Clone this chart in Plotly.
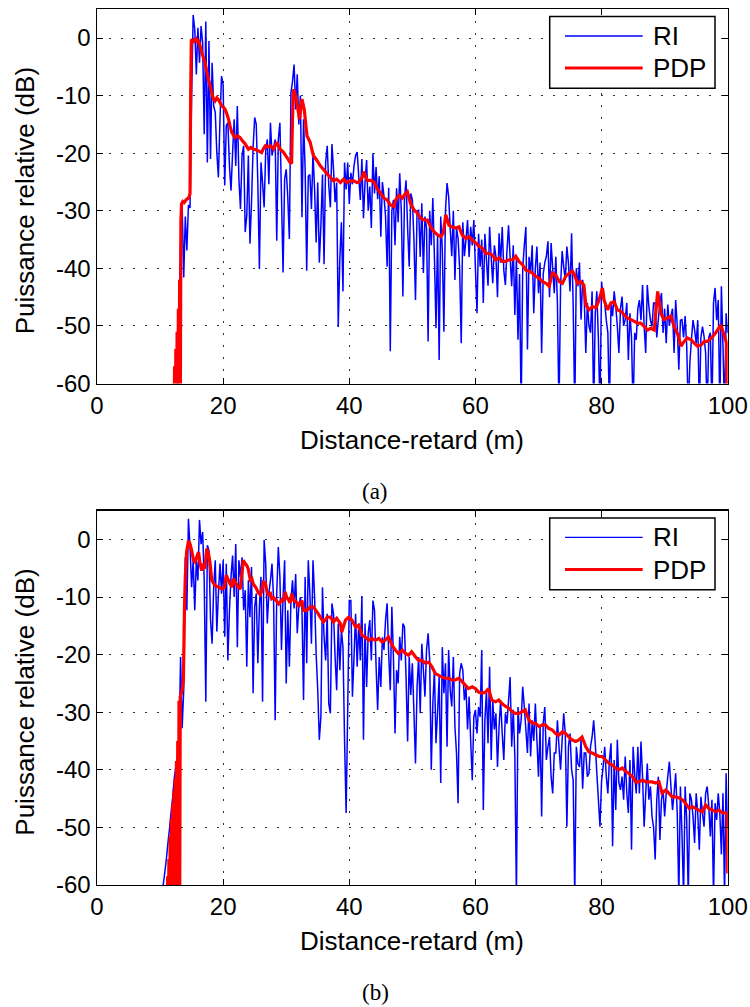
import numpy as np
import plotly.graph_objects as go

# ------------------------------------------------------------------ data
DIST_STEP = 0.25          # sampling step of the impulse responses (m)

# (a) impulse response RI, dB, samples from 12.0 m every 0.25 m (one row = 1 m)
RI_A_START = 12.0
RI_A = [
    -75, -75, -70, -62,            # 12
    -48, -36, -29, -41.6,          # 13
    -31, -36.9, -29, -29.5,        # 14
    -10, 4.0, 1.5, -6.3,           # 15
    1.8, -4.3, 2.1, -0.8,          # 16
    -16.7, 2.9, -21.6, -0.5,       # 17
    -21.0, -4.3, -11.8, -12.9,     # 18
    -19.9, -24.2, -14.1, -6.6,     # 19
    -8.1, -25.6, -15.2, -14.7,     # 20
    -22.2, -26.5, -19.9, -14.1,    # 21
    -22.2, -11.8, -24.5, -29.7,    # 22
    -20.4, -18.7, -33.7, -30.8,    # 23
    -20.4, -35.7, -28.5, -19.0,    # 24
    -13.8, -15.0, -25.1, -40.1,    # 25
    -21.6, -25.1, -29.4, -19.6,    # 26
    -17.6, -25.4, -14.7, -20.4,    # 27
    -19.0, -17.6, -35.2, -17.6,    # 28
    -14.7, -27.4, -40.7, -24.5,    # 29
    -22.8, -27.7, -34.9, -9.5,     # 30
    -7.5, -4.6, -12.4, -6.3,       # 31
    -15.0, -10.0, -31.1, -14.1,    # 32
    -22.8, -40.4, -24.0, -23.7,    # 33
    -29.7, -19.9, -26.3, -35.5,    # 34
    -25.1, -39.0, -32.5, -23.7,    # 35
    -39.3, -21.6, -18.7, -25.6,    # 36
    -29.4, -18.4, -22.8, -28.5,    # 37
    -25.1, -50.2, -38.4, -32.0,    # 38
    -44.0, -21.6, -26.3, -21.6,    # 39
    -28.8, -23.4, -25.4, -22.2,    # 40
    -20.4, -19.8, -24, -28.1,      # 41
    -21, -31.3, -25, -21.2,        # 42
    -30, -25.8, -33, -20.0,        # 43
    -27, -22.4, -28, -24,          # 44
    -34.5, -25, -27.5, -31,        # 45
    -39.7, -26, -54.4, -30,        # 46
    -28.1, -36, -26.1, -32,        # 47
    -23.5, -30, -44.9, -28,        # 48
    -24.7, -33, -39.7, -27,        # 49
    -28.1, -35, -45.5, -30,        # 50
    -29.9, -38, -28.7, -40.8,      # 51
    -31, -33, -52.7, -30,          # 52
    -36, -27.8, -38, -50.4,        # 53
    -34, -55.9, -31, -36.8,        # 54
    -51, -30, -25.2, -27.5,        # 55
    -33, -37.9, -30, -42,          # 56
    -33, -34.8, -40, -53,          # 57
    -32, -37.9, -35, -31.6,        # 58
    -38, -32.8, -36, -31.6,        # 59
    -40, -47.8, -34, -39.7,        # 60
    -35, -46.0, -34, -38.5,        # 61
    -43, -32.8, -38, -42.6,        # 62
    -36, -37.9, -45, -33.9,        # 63
    -39, -32.8, -40.3, -42.9,      # 64
    -37, -32.5, -38, -43.1,        # 65
    -36, -48.1, -38, -52.4,        # 66
    -41, -65, -40, -36,            # 67
    -32.8, -54.1, -38, -40.8,      # 68
    -36, -47.8, -40, -36.2,        # 69
    -44.3, -39, -54.7, -41,        # 70
    -39, -37.9, -35.3, -45,        # 71
    -35.6, -40, -44.3, -38,        # 72
    -46, -65, -43.1, -37,          # 73
    -39.7, -42, -36.2, -39.1,      # 74
    -44, -33.9, -46.6, -65,        # 75
    -40, -43.1, -39, -48.9,        # 76
    -42, -45, -54.7, -46.0,        # 77
    -50, -51.2, -44, -65,          # 78
    -47.8, -44, -52.4, -65,        # 79
    -42.3, -45, -46.0, -49,        # 80
    -51.2, -65, -46, -48.3,        # 81
    -44, -46.6, -50, -54.7,        # 82
    -47, -44.9, -50, -48.9,        # 83
    -46, -55.9, -47.8, -52,        # 84
    -65, -51.2, -52.4, -47,        # 85
    -45.5, -49, -42.9, -50,        # 86
    -54.7, -42.9, -46.6, -49,      # 87
    -50.1, -46, -46.0, -52,        # 88
    -48.9, -46, -44.3, -51.2,      # 89
    -47, -53, -46.3, -50,          # 90
    -48.3, -47, -54.7, -45.5,      # 91
    -50, -57.6, -49, -48.9,        # 92
    -52, -48.3, -53.5, -65,        # 93
    -56.4, -52.4, -49, -50.7,      # 94
    -53, -49, -65, -52,            # 95
    -50.1, -51.8, -54.7, -65,      # 96
    -52, -51.2, -65, -46,          # 97
    -43.4, -49, -45.5, -65,        # 98
    -43.1, -53.5, -65, -47.8,      # 99
    -51.2,                         # 100
]

# (a) power delay profile PDP: (distance m, dB)
PDP_A = [
    (12.1, -60), (12.2, -70), (12.3, -57), (12.4, -70), (12.5, -54), (12.6, -70),
    (12.7, -51), (12.8, -70), (12.9, -47), (13.0, -70), (13.1, -42), (13.2, -70),
    (13.3, -32), (13.4, -28.8), (13.6, -28.4), (13.8, -28.6), (14.0, -28.3),
    (14.2, -28.0), (14.4, -27.9), (14.6, -27.6), (14.75, -27.0), (14.85, -10),
    (14.95, -0.5), (15.03, -0.2), (15.29, -0.8), (15.5, -0.3), (15.71, -0.1),
    (15.9, -0.6), (16.08, -0.5), (16.35, -1.4), (16.61, -2.5), (16.9, -3.5),
    (17.14, -4.3), (17.4, -5.8), (17.67, -7.2), (17.9, -8.1), (18.2, -9.5),
    (18.45, -10.5), (18.73, -10.9), (19.0, -10.4), (19.26, -10.7), (19.5, -11.2),
    (19.79, -11.8), (20.05, -12.0), (20.32, -12.4), (20.6, -13.2), (20.85, -14.1),
    (21.1, -15.3), (21.38, -16.4), (21.65, -16.9), (21.9, -17.3), (22.3, -17.0),
    (22.7, -17.3), (23.1, -17.9), (23.5, -18.4), (24.0, -19.3), (24.4, -19.0),
    (24.8, -19.3), (25.2, -19.4), (25.6, -19.6), (26.1, -19.9), (26.4, -19.2),
    (26.7, -18.7), (27.1, -18.9), (27.5, -18.7), (28.0, -19.3), (28.5, -18.1),
    (29.05, -19.3), (29.6, -19.9), (30.1, -20.7), (30.6, -21.6), (30.85, -21.8),
    (31.0, -14.0), (31.16, -8.9), (31.4, -9.6), (31.7, -11.2), (32.1, -14.1),
    (32.5, -10.6), (32.86, -12.4), (33.3, -17.0), (33.8, -18.1), (34.3, -20.4),
    (34.9, -21.3), (35.4, -22.2), (35.9, -22.8), (36.5, -23.6), (37.0, -24.2),
    (37.5, -24.8), (38.0, -24.5), (38.6, -25.1), (39.1, -24.5), (39.6, -25.1),
    (40.2, -24.8), (40.7, -24.8), (41.2, -25.1), (41.5, -25.0), (42.1, -24.1),
    (42.3, -23.2), (42.85, -24.7), (43.4, -24.7), (43.9, -25.0), (44.4, -26.1),
    (45.0, -27.0), (45.5, -27.8), (46.0, -28.1), (46.55, -29.0), (47.1, -29.3),
    (47.35, -28.1), (47.9, -27.3), (48.4, -27.8), (48.9, -27.0), (49.2, -26.7),
    (49.7, -28.7), (50.3, -29.9), (50.8, -30.4), (51.3, -31.3), (51.85, -31.6),
    (52.4, -31.6), (52.9, -32.8), (53.4, -33.6), (54.0, -34.2), (54.5, -34.5),
    (54.9, -33.9), (55.3, -30.7), (55.8, -32.5), (56.3, -32.8), (56.9, -33.0),
    (57.4, -32.8), (57.9, -34.2), (58.5, -34.8), (59.0, -34.5), (59.5, -35.1),
    (60.05, -35.6), (60.6, -36.2), (61.1, -36.5), (61.6, -37.4), (62.2, -37.4),
    (62.7, -37.7), (63.2, -38.5), (63.75, -38.2), (64.3, -38.8), (64.8, -38.8),
    (65.3, -38.5), (65.9, -38.5), (66.4, -37.9), (66.9, -38.8), (67.5, -39.4),
    (68.0, -40.3), (68.5, -40.5), (69.0, -40.8), (69.6, -41.4), (70.1, -41.7),
    (70.6, -42.3), (71.2, -42.6), (71.7, -43.1), (72.2, -40.8), (72.7, -41.1),
    (73.3, -42.3), (73.8, -42.6), (74.3, -41.4), (74.9, -40.8), (75.4, -40.5),
    (75.7, -41.1), (76.2, -42.6), (76.7, -42.3), (77.2, -42.9), (77.5, -46.3),
    (78.0, -47.2), (78.6, -46.6), (79.1, -46.9), (79.6, -45.5), (80.15, -43.4),
    (80.4, -45.5), (80.95, -47.2), (81.5, -46.0), (82.0, -45.8), (82.5, -47.2),
    (83.1, -47.5), (83.6, -48.1), (84.1, -48.6), (84.65, -48.9), (85.2, -49.2),
    (85.7, -49.5), (86.2, -49.5), (86.8, -50.1), (87.3, -50.7), (87.8, -50.4),
    (88.35, -50.7), (88.9, -44.0), (89.4, -47.8), (89.9, -48.9), (90.5, -48.6),
    (91.0, -48.3), (91.5, -50.1), (92.1, -51.5), (92.6, -53.5), (93.1, -52.7),
    (93.6, -52.1), (94.2, -52.4), (94.7, -53.0), (95.2, -53.5), (95.8, -53.3),
    (96.3, -52.7), (96.8, -52.7), (97.35, -52.1), (97.9, -51.5), (98.4, -50.7),
    (98.9, -49.8), (99.5, -51.8), (99.8, -53.0), (100.0, -70),
]

# (b) impulse response RI, dB, samples from 10.0 m every 0.25 m (one row = 1 m)
RI_B_START = 10.0
RI_B = [
    -75, -65, -60, -57.8,          # 10
    -55.5, -52.7, -50.2, -47.3,    # 11
    -44.8, -41.5, -39.4, -37.8,    # 12
    -36, -20.4, -32.8, -26.2,      # 13
    -3.1, -12.3, 3.6, -1.3,        # 14
    -8.3, -3.6, -12.3, -3.6,       # 15
    -7.1, 3.4, -0.8, 1.3,          # 16
    -7.1, -28.2, -1.0, -1.9,       # 17
    -14, -18.1, -8.3, -3.6,        # 18
    -16, -9.4, -4.2, -9.4,         # 19
    -3.6, -16.9, -4.2, -21,        # 20
    -12.3, -6.5, -2.8, -10,        # 21
    -0.8, -18.7, -3.6, -6.5,       # 22
    -3.1, -12.3, -8.8, -22.1,      # 23
    -7.1, -13.5, -4.8, -26.7,      # 24
    -11.7, -9.4, -21.5, -11.7,     # 25
    -6.5, -28.2, -0.1, -4.2,       # 26
    -14.6, -9.4, -7.1, -4.2,       # 27
    -10.6, -31.4, -9.4, -1.3,      # 28
    -6.5, -19.2, -10, -3.6,        # 29
    -25, -12.3, -22.1, -10.6,      # 30
    -7.1, -12, -6.0, -16.3,        # 31
    -11.7, -10, -12.3, -27.9,      # 32
    -6.5, -21.5, -3.6, -9.4,       # 33
    -18.1, -3.6, -10, -20,         # 34
    -26.2, -34.8, -30.8, -8.3,     # 35
    -16.9, -21, -12.9, -28.5,      # 36
    -30.2, -11.1, -12.9, -20.4,    # 37
    -26.2, -14.6, -22.7, -15.8,    # 38
    -18.7, -34.8, -47.5, -29.6,    # 39
    -10.6, -10.6, -27.3, -20.4,    # 40
    -12.9, -22.1, -14.6, -21,      # 41
    -9.8, -34.8, -14.6, -25.6,     # 42
    -16.3, -14.0, -21.0, -10.6,    # 43
    -12.3, -22, -29.6, -20.4,      # 44
    -25.6, -17, -19.2, -14.0,      # 45
    -11.1, -20, -26.2, -11.7,      # 46
    -20.4, -33.7, -22.7, -25.0,    # 47
    -16.9, -21, -14.6, -15.2,      # 48
    -23.9, -35.1, -20.4, -27,      # 49
    -21.5, -30, -38.9, -25.6,      # 50
    -20.4, -30.2, -18.1, -22.7,    # 51
    -27.3, -19.2, -16.3, -21.0,    # 52
    -40.0, -28.5, -22.7, -35.4,    # 53
    -30, -23.9, -42.3, -18.7,      # 54
    -26.7, -21.5, -36.0, -19.2,    # 55
    -26.2, -29, -20.4, -32.5,      # 56
    -37.1, -45.8, -23.3, -21.5,    # 57
    -22.7, -27.9, -25.6, -33,      # 58
    -27.3, -35, -41.8, -30.8,      # 59
    -29.6, -33.7, -29.1, -30.8,    # 60
    -19.2, -47.0, -31.4, -26.2,    # 61
    -35.4, -22.1, -38.3, -27.9,    # 62
    -33, -30.2, -39.5, -32.5,      # 63
    -27.9, -33.7, -38.3, -30.2,    # 64
    -32.0, -28, -23.9, -36.0,      # 65
    -29.6, -37.7, -62, -29.1,      # 66
    -33.7, -31.4, -25.6, -29.1,    # 67
    -33, -37.1, -28.5, -37.7,      # 68
    -31.4, -35, -28.5, -34.8,      # 69
    -41.2, -32.5, -48.1, -31.9,    # 70
    -29.1, -38.3, -36.0, -34.3,    # 71
    -41.2, -44.1, -37.1, -37.1,    # 72
    -31.4, -36.0, -40, -34.8,      # 73
    -30.2, -33.7, -49.9, -36.0,    # 74
    -33.7, -40.0, -41.8, -62,      # 75
    -36.0, -38.9, -39.5, -34.8,    # 76
    -43.3, -37.1, -37.1, -41.2,    # 77
    -40.6, -36.0, -34.3, -31.4,    # 78
    -35.4, -40.6, -45.2, -49.9,    # 79
    -42, -39.5, -36.0, -41.2,      # 80
    -44.1, -38.3, -35.4, -53.3,    # 81
    -38.3, -47.0, -34.8, -42.3,    # 82
    -43.5, -41.2, -45.2, -37.7,    # 83
    -44, -47.5, -38.3, -53.9,      # 84
    -36.0, -40.6, -44.1, -36.0,    # 85
    -44.1, -35.1, -41.2, -49.9,    # 86
    -44.1, -38.9, -45.2, -42.9,    # 87
    -48.1, -50, -55.6, -45.2,      # 88
    -41.2, -52.2, -45.2, -43.5,    # 89
    -48.1, -44.1, -41.2, -38.6,    # 90
    -42.9, -47.0, -44.1, -40.6,    # 91
    -47.5, -62, -42.9, -51.0,      # 92
    -62, -42.9, -48.7, -62,        # 93
    -44.1, -45.2, -48.1, -52.7,    # 94
    -44.1, -47.5, -53.9, -44.7,    # 95
    -47.5, -49.9, -44.1, -42.9,    # 96
    -46.4, -51.6, -45.2, -62,      # 97
    -45.8, -48.7, -44.1, -47.5,    # 98
    -54.7, -44.1, -62, -40.6,      # 99
    -50,                           # 100
]

# (b) power delay profile PDP: (distance m, dB)
PDP_B = [
    (11.0, -61), (11.1, -70), (11.2, -58.5), (11.3, -70), (11.4, -55.5), (11.5, -70),
    (11.6, -51.5), (11.7, -70), (11.8, -48.5), (11.9, -70), (12.0, -46), (12.1, -70),
    (12.2, -43.5), (12.3, -70), (12.4, -41.5), (12.5, -70), (12.6, -38.5), (12.7, -70),
    (12.8, -35), (12.9, -70), (13.0, -28), (13.1, -70), (13.2, -27.3), (13.5, -26.2),
    (13.7, -24.4), (13.86, -12.3), (14.0, -6.5), (14.2, -2.2), (14.5, -0.2),
    (14.76, -0.8), (15.0, -1.9), (15.3, -3.6), (15.55, -3.9), (15.8, -3.1),
    (16.1, -2.2), (16.35, -4.2), (16.6, -5.4), (16.9, -4.2), (17.1, -5.1),
    (17.4, -1.6), (17.7, -2.5), (17.9, -3.9), (18.2, -7.1), (18.7, -8.0),
    (19.3, -8.3), (19.8, -8.6), (20.2, -8.3), (20.5, -6.2), (20.8, -7.0),
    (21.1, -7.7), (21.4, -8.3), (21.6, -6.8), (21.9, -7.4), (22.2, -8.0),
    (22.4, -8.3), (22.7, -8.6), (22.96, -6.2), (23.2, -3.6), (23.5, -4.2),
    (23.75, -4.5), (24.0, -5.2), (24.3, -7.0), (24.55, -6.8), (24.8, -7.8),
    (25.1, -8.2), (25.3, -8.6), (25.6, -9.3), (25.9, -9.6), (26.1, -9.0),
    (26.4, -7.4), (26.7, -7.6), (26.9, -8.8), (27.2, -9.6), (27.5, -9.4),
    (27.7, -10.3), (28.0, -10.1), (28.25, -10.4), (28.5, -10.7), (28.8, -11.2),
    (29.05, -10.9), (29.3, -10.5), (29.6, -10.8), (29.8, -9.1), (30.1, -10.1),
    (30.4, -10.5), (30.6, -11.0), (30.9, -9.4), (31.2, -10.6), (31.7, -10.9),
    (31.95, -11.7), (32.5, -10.6), (32.75, -12.3), (33.3, -12.3), (33.8, -11.7),
    (34.3, -11.7), (34.9, -12.6), (35.4, -13.5), (35.9, -14.3), (36.2, -14.0),
    (36.5, -13.5), (37.0, -13.5), (37.5, -14.3), (38.0, -13.7), (38.6, -14.6),
    (38.8, -16.1), (39.4, -14.0), (39.9, -13.5), (40.4, -14.0), (41.0, -15.2),
    (41.5, -14.9), (42.0, -16.6), (42.5, -16.9), (43.07, -17.5), (43.6, -17.2),
    (44.1, -17.5), (44.7, -17.2), (45.2, -17.8), (45.7, -17.5), (46.2, -16.9),
    (46.8, -18.4), (47.3, -19.2), (47.8, -19.8), (48.4, -19.2), (48.9, -19.8),
    (49.4, -20.1), (49.9, -19.5), (50.5, -20.4), (51.0, -21.0), (51.5, -21.0),
    (52.1, -21.5), (52.6, -21.3), (53.1, -22.1), (53.65, -23.3), (54.2, -23.6),
    (54.7, -23.9), (55.2, -24.1), (55.8, -24.1), (56.3, -24.4), (56.8, -24.4),
    (57.35, -24.1), (57.9, -24.7), (58.4, -25.3), (58.9, -25.9), (59.5, -25.6),
    (60.0, -25.9), (60.5, -26.5), (61.06, -26.7), (61.6, -26.5), (62.1, -25.9),
    (62.6, -27.9), (63.2, -28.2), (63.7, -27.9), (64.2, -28.5), (64.8, -29.0),
    (65.3, -29.3), (65.8, -29.9), (66.35, -30.2), (66.9, -30.2), (67.4, -29.9),
    (67.9, -29.6), (68.5, -31.4), (69.0, -31.9), (69.5, -31.9), (70.1, -32.5),
    (70.6, -32.2), (71.1, -32.2), (71.6, -32.8), (72.2, -33.1), (72.7, -33.7),
    (73.2, -34.0), (73.8, -33.4), (74.3, -33.7), (74.8, -34.3), (75.3, -34.8),
    (75.9, -35.1), (76.4, -34.8), (76.9, -34.3), (77.5, -36.0), (78.0, -36.9),
    (78.5, -37.1), (79.05, -37.4), (79.6, -37.7), (80.1, -37.7), (80.6, -38.3),
    (81.2, -38.9), (81.7, -39.2), (82.2, -39.7), (82.75, -40.0), (83.3, -39.7),
    (83.8, -40.3), (84.3, -40.6), (84.9, -41.2), (85.4, -42.1), (85.9, -42.1),
    (86.5, -41.8), (87.0, -42.1), (87.5, -42.1), (88.0, -42.1), (88.6, -42.3),
    (89.1, -42.1), (89.6, -44.1), (90.2, -43.5), (90.7, -44.1), (91.2, -44.7),
    (91.75, -44.7), (92.3, -44.9), (92.8, -45.2), (93.3, -45.8), (93.9, -46.7),
    (94.4, -46.4), (94.9, -46.7), (95.45, -47.0), (96.0, -47.3), (96.5, -46.1),
    (97.0, -46.7), (97.6, -47.0), (98.1, -47.3), (98.6, -47.0), (99.2, -47.5),
    (99.7, -47.5), (99.9, -47.8), (100.0, -58),
]

SERIES_NAMES = ["RI", "PDP"]
X_TICKS = [0, 20, 40, 60, 80, 100]
X_TICK_TEXT = ["0", "20", "40", "60", "80", "100"]
Y_TICKS = [-60, -50, -40, -30, -20, -10, 0]
Y_TICK_TEXT = ["-60", "-50", "-40", "-30", "-20", "-10", "0"]
X_TITLE = "Distance-retard (m)"
Y_TITLE = "Puissance relative (dB)"
CAPTIONS = ["(a)", "(b)"]

assert len(RI_A) == 353 and len(RI_B) == 361

# ------------------------------------------------------------------ layout geometry (px)
W, H = 750, 1007
PLOT_LEFT, PLOT_RIGHT = 97.0, 727.7
PANEL_TOPS = [9.3, 510.7]
PANEL_HEIGHT = 374.2
BLUE, RED = "#0000ff", "#ff0000"
SANS = "Liberation Sans, Arial, Helvetica, sans-serif"
SERIF = "Liberation Serif, Times New Roman, serif"


def fx(px):
    return px / W


def fy(py):
    return 1 - py / H


fig = go.Figure()
shapes, annotations = [], []
panels = [(RI_A_START, RI_A, PDP_A), (RI_B_START, RI_B, PDP_B)]

for i, (start, ri, pdp) in enumerate(panels):
    sfx = "" if i == 0 else str(i + 1)
    xa, ya = "x" + sfx, "y" + sfx
    ri_x = start + DIST_STEP * np.arange(len(ri))
    fig.add_trace(go.Scatter(x=ri_x, y=ri, mode="lines", name=SERIES_NAMES[0],
                             line=dict(color=BLUE, width=1.5, simplify=False),
                             xaxis=xa, yaxis=ya, showlegend=False))
    pdx = [p[0] for p in pdp]
    pdy = [p[1] for p in pdp]
    fig.add_trace(go.Scatter(x=pdx, y=pdy, mode="lines", name=SERIES_NAMES[1],
                             line=dict(color=RED, width=3.2, simplify=False),
                             xaxis=xa, yaxis=ya, showlegend=False))

    top = PANEL_TOPS[i]
    bottom = top + PANEL_HEIGHT
    common = dict(showline=True, linecolor="black", linewidth=1.5, mirror="ticks",
                  ticks="inside", ticklen=6, tickwidth=1, tickcolor="black",
                  showgrid=True, gridcolor="#333", gridwidth=1, griddash="2px,10px",
                  zeroline=False, tickmode="array", automargin=False,
                  tickfont=dict(family=SANS, size=24, color="black"))
    fig.update_layout(**{
        "xaxis" + sfx: dict(common, domain=[fx(PLOT_LEFT), fx(PLOT_RIGHT)], range=[0, 100],
                            anchor=ya, tickvals=X_TICKS, ticktext=X_TICK_TEXT),
        "yaxis" + sfx: dict(common, domain=[fy(bottom), fy(top)], range=[-60, 5],
                            anchor=xa, tickvals=Y_TICKS, ticktext=Y_TICK_TEXT),
    })

    # axis titles and caption
    annotations.append(dict(text=X_TITLE, x=fx(412), y=fy(top + 430.5), xref="paper", yref="paper",
                            xanchor="center", yanchor="middle", showarrow=False,
                            font=dict(family=SANS, size=26, color="black")))
    annotations.append(dict(text=Y_TITLE, x=fx(25), y=fy(top + 192), xref="paper", yref="paper",
                            xanchor="center", yanchor="middle", showarrow=False, textangle=-90,
                            font=dict(family=SANS, size=26, color="black")))
    annotations.append(dict(text=CAPTIONS[i], x=fx(375), y=fy(top + 482), xref="paper", yref="paper",
                            xanchor="center", yanchor="middle", showarrow=False,
                            font=dict(family=SERIF, size=23, color="black")))

    # legend box (MATLAB style, long line samples)
    shapes.append(dict(type="rect", xref="paper", yref="paper",
                       x0=fx(549.7), x1=fx(715), y0=fy(top + 7.2), y1=fy(top + 79),
                       line=dict(color="black", width=1.5), fillcolor="white", layer="above"))
    for k, (name, col, wid) in enumerate([(SERIES_NAMES[0], BLUE, 1.3), (SERIES_NAMES[1], RED, 3)]):
        ly = top + 26.7 + k * 32.1
        shapes.append(dict(type="line", xref="paper", yref="paper",
                           x0=fx(565), x1=fx(642.7), y0=fy(ly), y1=fy(ly),
                           line=dict(color=col, width=wid), layer="above"))
        annotations.append(dict(text=name, x=fx(651), y=fy(ly), xref="paper", yref="paper",
                                xanchor="left", yanchor="middle", showarrow=False,
                                font=dict(family=SANS, size=26, color="black")))

fig.update_layout(width=W, height=H, autosize=False,
                  margin=dict(l=0, r=0, t=0, b=0),
                  paper_bgcolor="white", plot_bgcolor="white",
                  showlegend=False, shapes=shapes, annotations=annotations,
                  hovermode=False)

# the page body has a default 8px margin; remove it so the figure fills the window
fig.write_html("out.html",
               config={"displayModeBar": False, "staticPlot": True},
               post_script="document.body.style.margin='0';document.body.style.overflow='hidden';")
